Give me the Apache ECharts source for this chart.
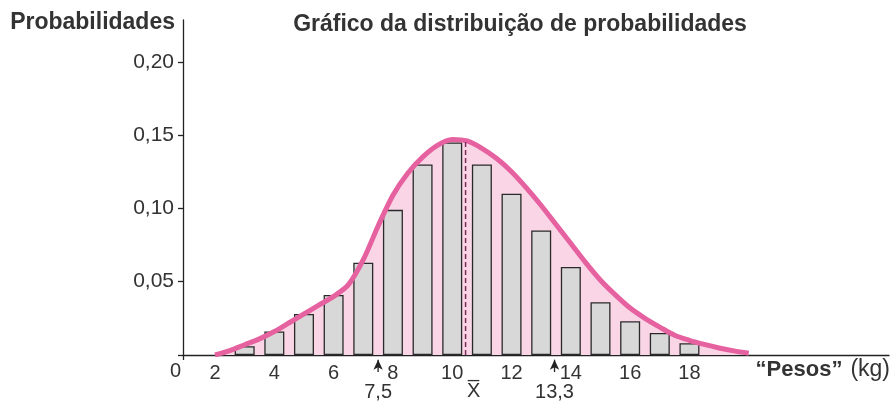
<!DOCTYPE html>
<html><head><meta charset="utf-8">
<script src="https://cdn.jsdelivr.net/npm/echarts@6/dist/echarts.min.js"></script>
<style>html,body{margin:0;padding:0;background:#fff}#c{width:893px;height:403px}</style>
</head><body><div id="c"></div>
<script>
// ---- data ----
const barX = [3, 4, 5, 6, 7, 8, 9, 10, 11, 12, 13, 14, 15, 16, 17, 18];
const barY = [0.006, 0.016, 0.028, 0.041, 0.063, 0.099, 0.130, 0.145, 0.130, 0.110, 0.085, 0.060, 0.036, 0.023, 0.015, 0.008];
const curveX = [2, 2.5, 3, 3.5, 4, 4.5, 5, 5.5, 6, 6.5, 7, 7.5, 8, 8.5, 9, 9.5, 10, 10.5, 11, 11.5, 12, 12.5, 13, 13.5, 14, 14.5, 15, 15.5, 16, 16.5, 17, 17.5, 18, 18.5, 19, 19.5, 20];
const curveY = [0, 0.003, 0.007, 0.011, 0.016, 0.022, 0.028, 0.034, 0.040, 0.048, 0.065, 0.088, 0.109, 0.124, 0.135, 0.143, 0.147, 0.146, 0.141, 0.134, 0.125, 0.114, 0.102, 0.089, 0.076, 0.063, 0.051, 0.041, 0.032, 0.025, 0.019, 0.0135, 0.010, 0.0072, 0.0048, 0.0028, 0.0012];
const xTicks = [2, 4, 6, 8, 10, 12, 14, 16, 18];
const yTicks = [0, 0.05, 0.10, 0.15, 0.20];
const meanX = 10.45;
const meanTop = 0.146;
const meanLabel = 'X\u0305';
const markX = [7.5, 13.45];
const markLabels = ['7,5', '13,3'];
const titleText = 'Gráfico da distribuição de probabilidades';
const yName = 'Probabilidades';
const xNameBold = '“Pesos”';
const xNameUnit = '(kg)';

// ---- chart ----
const FONT = 'Liberation Sans';
const TXT = '#333333';
const xMin = 0.92, xMax = 24.73, yMax = 0.2285;
const chart = echarts.init(document.getElementById('c'), null, {renderer: 'canvas'});

const pairs = (xs, ys) => xs.map((x, i) => [x, ys[i]]);
const curveData = pairs(curveX, curveY);
const barData = pairs(barX, barY);

const arrowSeries = markX.map((x, i) => ({
  type: 'line', silent: true, clip: false, z: 5,
  symbol: 'circle', symbolSize: 0, showSymbol: true,
  lineStyle: {color: '#222', width: 1.3},
  itemStyle: {color: '#222'},
  data: [
    {value: [x, -0.0116], label: {show: true, position: 'bottom', distance: 10, formatter: markLabels[i],
      fontFamily: FONT, fontSize: 20, color: TXT}},
    {value: [x, -0.0032], symbol: 'arrow', symbolSize: [7, 10]}
  ]
}));

chart.setOption({
  animation: false,
  backgroundColor: '#fff',
  title: {
    text: titleText, left: 515, top: 8, textAlign: 'center',
    textStyle: {fontFamily: FONT, fontSize: 23, fontWeight: 'bold', color: TXT}
  },
  grid: {left: 183, right: 3, top: 20, bottom: 48, containLabel: false},
  xAxis: {
    type: 'value', min: xMin, max: xMax,
    name: '{b|' + xNameBold + '}{r|' + xNameUnit + '}',
    nameLocation: 'end', nameGap: 1,
    nameTextStyle: {
      align: 'right', verticalAlign: 'top', padding: [3, 0, 0, 0],
      rich: {
        b: {fontFamily: FONT, fontSize: 22, fontWeight: 'bold', color: TXT, padding: [0, 8, 0, 0]},
        r: {fontFamily: FONT, fontSize: 23, color: TXT}
      }
    },
    axisLine: {show: true, onZero: false, lineStyle: {color: '#222', width: 1.3}},
    axisTick: {show: true, customValues: [xMin], length: 5, inside: false, lineStyle: {color: '#222', width: 1.3}},
    axisLabel: {customValues: xTicks, margin: 8, fontFamily: FONT, fontSize: 20, color: TXT},
    splitLine: {show: false}
  },
  yAxis: {
    type: 'value', min: 0, max: yMax,
    name: yName, nameLocation: 'end', nameGap: -3,
    nameTextStyle: {align: 'right', verticalAlign: 'middle', padding: [0, 8, 0, 0],
      fontFamily: FONT, fontSize: 23, fontWeight: 'bold', color: TXT},
    axisLine: {show: true, lineStyle: {color: '#222', width: 1.3}},
    axisTick: {show: true, customValues: yTicks, length: 5, inside: false, lineStyle: {color: '#222', width: 1.3}},
    axisLabel: {
      customValues: yTicks, margin: 2,
      formatter: v => v === 0 ? '{z|0}' : '{n|' + v.toFixed(2).replace('.', ',') + '}',
      rich: {
        n: {fontFamily: FONT, fontSize: 21, color: TXT, padding: [0, 7, 0, 0]},
        z: {fontFamily: FONT, fontSize: 20, color: TXT, padding: [32, 0, 0, 0]}
      }
    },
    splitLine: {show: false}
  },
  series: [
    {
      type: 'line', silent: true, z: 1, smooth: 0.3, showSymbol: false,
      lineStyle: {width: 0, opacity: 0},
      areaStyle: {color: '#f9d5e6', opacity: 1},
      data: curveData
    },
    {
      type: 'bar', silent: true, z: 2, barWidth: 20,
      itemStyle: {color: '#d8d8d8', borderColor: '#2a2a2a', borderWidth: 1.3},
      data: barData
    },
    {
      type: 'line', silent: true, z: 3, smooth: 0.3, showSymbol: false,
      lineStyle: {color: '#e6619f', width: 5},
      data: curveData
    },
    {
      type: 'line', silent: true, z: 4, clip: false,
      symbol: 'circle', symbolSize: 0, showSymbol: true,
      lineStyle: {color: '#7d2b58', width: 1.5, type: [5, 3]},
      itemStyle: {color: '#7d2b58'},
      data: [
        {value: [meanX, 0], label: {show: true, position: 'bottom', distance: 26, offset: [8, 0],
          formatter: meanLabel, fontFamily: FONT, fontSize: 20, color: TXT}},
        [meanX, meanTop]
      ]
    },
    ...arrowSeries
  ]
});
</script>
</body></html>
